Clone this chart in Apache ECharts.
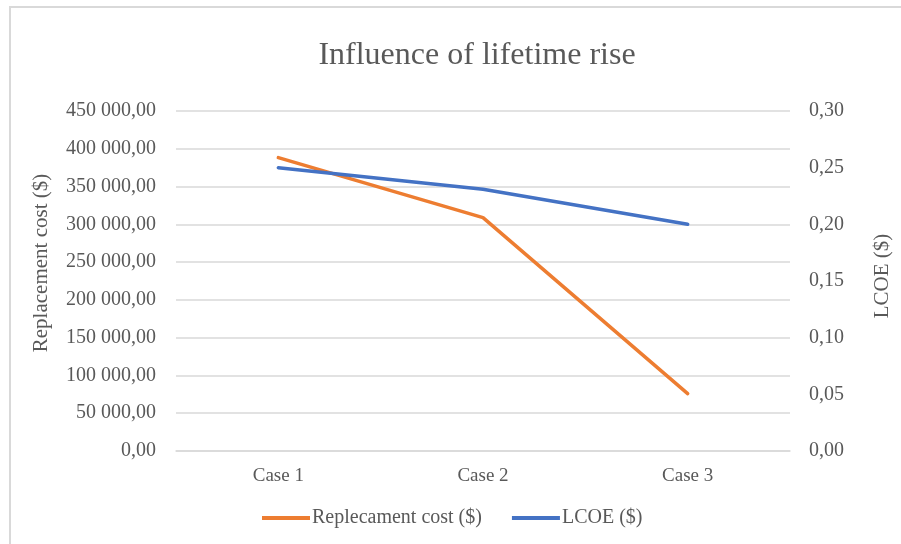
<!DOCTYPE html>
<html>
<head>
<meta charset="utf-8">
<script src="https://cdn.jsdelivr.net/npm/echarts@6/dist/echarts.min.js"></script>
<style>
html,body{margin:0;padding:0;background:#fff;}
#wrap{position:absolute;left:0;top:0;width:901px;height:544px;}
#frame{position:absolute;left:9px;top:6px;right:0;bottom:0;border-left:2px solid #d9d9d9;border-top:2px solid #d9d9d9;}
#chart{position:absolute;left:0;top:0;width:901px;height:544px;}
</style>
</head>
<body>
<div id="wrap"><div id="frame"></div><div id="chart"></div></div>
<script>
const titleText = 'Influence of lifetime rise';
const categories = ['Case 1', 'Case 2', 'Case 3'];
const replacementCost = [388300, 308900, 76000];
const lcoe = [0.25, 0.231, 0.20];
const seriesNames = ['Replecament cost ($)', 'LCOE ($)'];
const leftAxisName = 'Replacement cost ($)';
const rightAxisName = 'LCOE ($)';

const FONT = '"Liberation Serif", serif';
const TXT = '#595959';

function fmtLeft(v){
  const fixed = v.toFixed(2).split('.');
  const intPart = fixed[0].replace(/\B(?=(\d{3})+(?!\d))/g, ' ');
  return intPart + ',' + fixed[1];
}
function fmtRight(v){ return v.toFixed(2).replace('.', ','); }

const chart = echarts.init(document.getElementById('chart'), null, {renderer:'canvas'});
chart.setOption({
  backgroundColor: 'transparent',
  animation: false,
  title: {
    text: titleText, left: 472, top: 35, textAlign: 'center',
    textStyle: {fontFamily: FONT, fontSize: 32, fontWeight: 'normal', color: TXT}
  },
  legend: {
    left: 257, top: 503, itemWidth: 48, itemHeight: 4, itemGap: 30, icon: 'rect',
    textStyle: {fontFamily: FONT, fontSize: 20, color: TXT, padding: [0,0,0,-3]},
    data: seriesNames
  },
  grid: {left: 176, right: 110, top: 111, bottom: 93, containLabel: false},
  xAxis: {
    type: 'category', data: categories, boundaryGap: true,
    axisLine: {lineStyle: {color: '#d9d9d9', width: 1.5}},
    axisTick: {show: false},
    axisLabel: {fontFamily: FONT, fontSize: 19, color: TXT, margin: 16}
  },
  yAxis: [
    {
      type: 'value', min: 0, max: 450000, interval: 50000,
      name: leftAxisName, nameLocation: 'middle', nameGap: 124, nameRotate: 90,
      nameTextStyle: {fontFamily: FONT, fontSize: 21, color: TXT, padding: [0,0,0,36]},
      axisLine: {show: false}, axisTick: {show: false},
      axisLabel: {fontFamily: FONT, fontSize: 20, color: TXT, margin: 20, formatter: fmtLeft},
      splitLine: {lineStyle: {color: '#d9d9d9', width: 1.5}}
    },
    {
      type: 'value', min: 0, max: 0.30, interval: 0.05, position: 'right',
      name: rightAxisName, nameLocation: 'middle', nameGap: 82, nameRotate: 90,
      nameTextStyle: {fontFamily: FONT, fontSize: 21, color: TXT, padding: [0,0,0,10]},
      axisLine: {show: false}, axisTick: {show: false},
      axisLabel: {fontFamily: FONT, fontSize: 20, color: TXT, margin: 19, formatter: fmtRight},
      splitLine: {show: false}
    }
  ],
  series: [
    {
      name: seriesNames[0], type: 'line', yAxisIndex: 0, data: replacementCost,
      symbol: 'none', color: '#ED7D31',
      lineStyle: {color: '#ED7D31', width: 3.5, cap: 'round', join: 'round'}
    },
    {
      name: seriesNames[1], type: 'line', yAxisIndex: 1, data: lcoe,
      symbol: 'none', color: '#4472C4',
      lineStyle: {color: '#4472C4', width: 3.5, cap: 'round', join: 'round'}
    }
  ]
});
</script>
</body>
</html>
